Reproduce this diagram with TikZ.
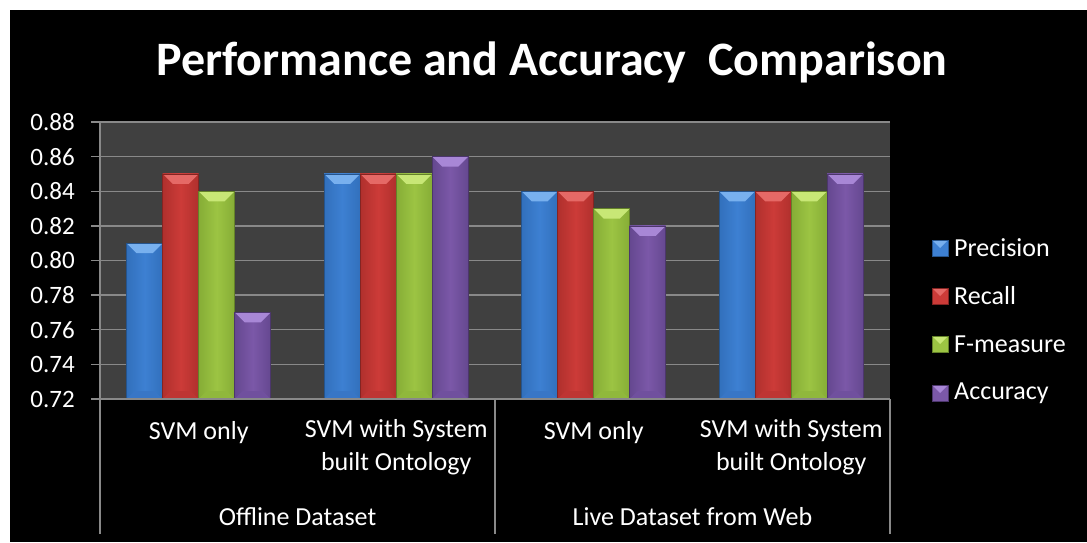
\documentclass[tikz,border=0pt]{standalone}
\usepackage{fontspec}
\setmainfont{Carlito}
\definecolor{plotbg}{HTML}{404040}
\definecolor{gridc}{HTML}{898989}
% series colours: D = edge, M = body, L = top bevel, B = bottom bevel
\definecolor{precD}{HTML}{3270BC}\definecolor{precM}{HTML}{3D80D2}\definecolor{precL}{HTML}{78B0EE}\definecolor{precB}{HTML}{3876C6}
\definecolor{recD}{HTML}{B0302D}\definecolor{recM}{HTML}{CC3B38}\definecolor{recL}{HTML}{E56966}\definecolor{recB}{HTML}{BE3533}
\definecolor{fmD}{HTML}{86AD36}\definecolor{fmM}{HTML}{9CC443}\definecolor{fmL}{HTML}{C8E776}\definecolor{fmB}{HTML}{90B83C}
\definecolor{accD}{HTML}{654890}\definecolor{accM}{HTML}{7B58A8}\definecolor{accL}{HTML}{A887D6}\definecolor{accB}{HTML}{70509E}
\newcommand{\drawbar}[3]{%
  \pgfmathsetmacro\bartop{399-(#2-0.72)*1731.25}%
  \pgfmathsetmacro\barright{#1+36}%
  \fill[left color=#3D, right color=#3D, middle color=#3M] (#1,\bartop) rectangle (\barright,399);
  \fill[#3L] (#1,\bartop) -- (\barright,\bartop) -- (\barright-10,\bartop+10) -- (#1+10,\bartop+10) -- cycle;
  \fill[#3B] (#1,399) -- (\barright,399) -- (\barright-8,391) -- (#1+8,391) -- cycle;
  \draw[#3D!75!black, line width=0.6pt] (#1,\bartop) rectangle (\barright,399);
}
\newcommand{\legendkey}[3]{%
  \fill[#1M] (932,#2-8) rectangle (948,#2+8);
  \fill[#1L] (932,#2-8) -- (948,#2-8) -- (940,#2) -- cycle;
  \draw[#1D!75!black, line width=0.5pt] (932,#2-8) rectangle (948,#2+8);
  \node[legtext] (leg#1) at (954,#2) {#3};
}
\tikzset{
  ticklab/.style={text=white, font=\fontsize{25}{27}\selectfont, anchor=east, inner sep=0pt},
  catlab/.style={text=white, font=\fontsize{26}{33}\selectfont, align=center, inner sep=0pt},
  legtext/.style={text=white, font=\fontsize{26}{28}\selectfont, anchor=west, inner sep=0pt},
  gridline/.style={draw=gridc, line width=1.4pt},
}
\begin{document}
\begin{tikzpicture}[x=1pt, y=-1pt]
  \useasboundingbox (0,0) rectangle (1087,542);
  \fill[white] (0,0) rectangle (1087,542);
  \fill[black] (10,10) rectangle (1087,542);

  % title
  \node[text=white, font=\bfseries\fontsize{48}{52}\selectfont, inner sep=0pt] (title) at (552,62) {Performance and Accuracy\ \ Comparison};

  % plot area and horizontal grid
  \fill[plotbg] (100,122) rectangle (890,399);
  \foreach \v/\lab [count=\i] in {0.74/0.74,0.76/0.76,0.78/0.78,0.80/0.80,0.82/0.82,0.84/0.84,0.86/0.86,0.88/0.88} {
    \pgfmathsetmacro\gy{399-(\v-0.72)*1731.25}
    \draw[gridline] (91,\gy) -- (890,\gy);
    \node[ticklab] (tick\i) at (75,\gy) {\lab};
  }
  \node[ticklab] (tick0) at (75,399) {0.72};

  % bars: category start x, then Precision, Recall, F-measure, Accuracy
  \foreach \cx/\p/\r/\f/\a in {100/0.81/0.85/0.84/0.77, 297.5/0.85/0.85/0.85/0.86, 495/0.84/0.84/0.83/0.82, 692.5/0.84/0.84/0.84/0.85} {
    \drawbar{\cx+26.7}{\p}{prec}
    \drawbar{\cx+62.7}{\r}{rec}
    \drawbar{\cx+98.7}{\f}{fm}
    \drawbar{\cx+134.7}{\a}{acc}
  }

  % axes and category separators
  \draw[gridline] (91,399) -- (890,399);
  \draw[gridline] (100,122) -- (100,534);
  \draw[gridline] (495,399) -- (495,534);
  \draw[gridline] (890,399) -- (890,534);

  % category labels
  \node[catlab] (c1) at (198.75,433) {SVM only};
  \node[catlab, anchor=north] (c2) at (396.25,419) {SVM with System\\built Ontology};
  \node[catlab] (c3) at (593.75,433) {SVM only};
  \node[catlab, anchor=north] (c4) at (791.25,419) {SVM with System\\built Ontology};
  \node[catlab] (g1) at (297.5,517) {Offline Dataset};
  \node[catlab] (g2) at (692.5,517) {Live Dataset from Web};

  % legend
  \legendkey{prec}{248}{Precision}
  \legendkey{rec}{296}{Recall}
  \legendkey{fm}{344}{F-measure}
  \legendkey{acc}{393}{Accuracy}
\end{tikzpicture}
\end{document}
